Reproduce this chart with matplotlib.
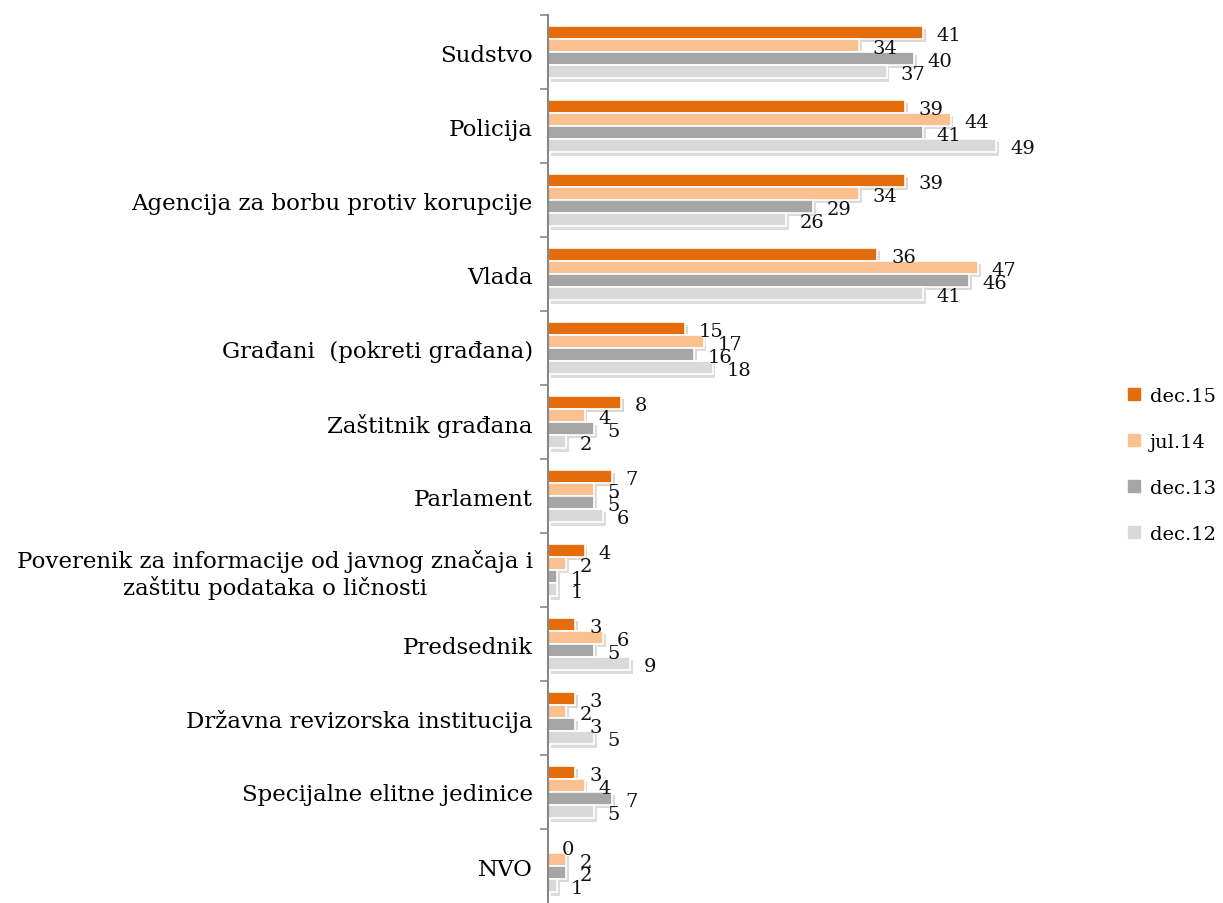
import numpy as np
import matplotlib
matplotlib.use('Agg')
import matplotlib.pyplot as plt
import matplotlib.patheffects as pe
from matplotlib.lines import Line2D

categories = ['Sudstvo', 'Policija', 'Agencija za borbu protiv korupcije', 'Vlada',
              'Građani  (pokreti građana)', 'Zaštitnik građana', 'Parlament',
              'Poverenik za informacije od javnog značaja i\nzaštitu podataka o ličnosti',
              'Predsednik', 'Državna revizorska institucija', 'Specijalne elitne jedinice', 'NVO']
series = ['dec.15', 'jul.14', 'dec.13', 'dec.12']
dec15 = [41, 39, 39, 36, 15, 8, 7, 4, 3, 3, 3, 0]
jul14 = [34, 44, 34, 47, 17, 4, 5, 2, 6, 2, 4, 2]
dec13 = [40, 41, 29, 46, 16, 5, 5, 1, 5, 3, 7, 2]
dec12 = [37, 49, 26, 41, 18, 2, 6, 1, 9, 5, 5, 1]
colors = ['#E46C0A', '#FAC090', '#A6A6A6', '#D9D9D9']

plt.rcParams['font.family'] = ['DejaVu Serif']

fig = plt.figure(figsize=(12.23, 9.04), dpi=100)
ax = fig.add_axes([548 / 1223, 0.0, 549 / 1223, (904 - 16) / 904])

y = np.arange(len(categories))
pitch = 0.176
shadow = [pe.SimplePatchShadow(offset=(2, -2.5), alpha=0.18), pe.Normal()]
for i, (name, vals) in enumerate(zip(series, [dec15, jul14, dec13, dec12])):
    pos = y + (i - 1.5) * pitch
    bars = ax.barh(pos, vals, height=pitch, color=colors[i], edgecolor='white',
                   linewidth=1.2, label=name)
    for b in bars:
        b.set_path_effects(shadow)
    for p, v in zip(pos, vals):
        ax.text(v + 1.5, p + 0.04, str(v), va='center', ha='left', fontsize=14, color='#111111')

ax.set_ylim(len(categories) - 0.5, -0.5)
ax.set_xlim(0, 60)
ax.set_yticks(y)
ax.set_yticklabels(categories, fontsize=16.5, linespacing=1.15)
ax.set_yticks(np.arange(len(categories)) - 0.5, minor=True)
ax.tick_params(axis='y', which='major', length=0, pad=11)
ax.tick_params(axis='y', which='minor', length=6, width=1.2, color='#888888')
ax.set_xticks([])
for s in ['top', 'right', 'bottom']:
    ax.spines[s].set_visible(False)
ax.spines['left'].set_color('#888888')
ax.spines['left'].set_linewidth(1.5)
for lab in ax.get_yticklabels():
    lab.set_multialignment('center')

handles = [Line2D([], [], marker='s', linestyle='none', markersize=9, color=c) for c in colors]
fig.legend(handles, series, loc='center left', bbox_to_anchor=(1124 / 1223, 1 - 466 / 904),
           frameon=False, fontsize=14, handletextpad=0.35, labelspacing=1.45, handlelength=1.0,
           borderpad=0, borderaxespad=0)

fig.savefig('out.png', dpi=100)
